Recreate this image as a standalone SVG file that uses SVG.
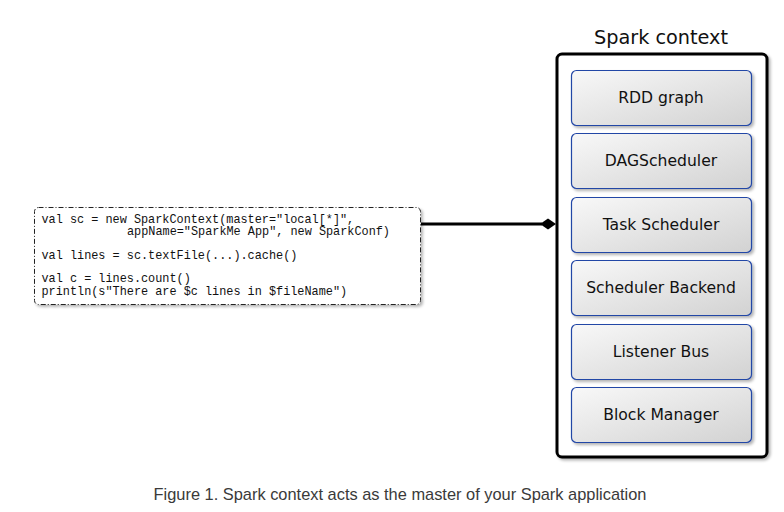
<svg xmlns="http://www.w3.org/2000/svg" width="784" height="512" viewBox="0 0 784 512">
<style>
.code{font-family:"Liberation Mono","Courier New",monospace;font-size:11.85px;fill:#111;white-space:pre}
.box{fill:url(#g);stroke:#2347a6;stroke-width:1.2}
.lbl{font-family:"DejaVu Sans","Lucida Grande",sans-serif;font-size:15.6px;fill:#111;text-anchor:middle}
</style>
<defs>
<linearGradient id="g" x1="0" y1="0" x2="1" y2="1">
<stop offset="0" stop-color="#f8f8f8"/>
<stop offset="1" stop-color="#d2d2d2"/>
</linearGradient>
<filter id="sh" x="-10%" y="-10%" width="130%" height="130%">
<feGaussianBlur in="SourceAlpha" stdDeviation="1.5"/>
<feOffset dx="2" dy="2"/>
<feComponentTransfer><feFuncA type="linear" slope="0.3"/></feComponentTransfer>
<feMerge><feMergeNode/><feMergeNode in="SourceGraphic"/></feMerge>
</filter>
</defs>
<rect width="784" height="512" fill="#fff"/>
<g id="code-box">
<rect x="34.5" y="207.5" width="386" height="97" rx="4" fill="#fff" stroke="#222" stroke-width="1" stroke-dasharray="5,2,1,2" filter="url(#sh)"/>
<text class="code" x="41.5" y="222.5">val sc = new SparkContext(master="local[*]",</text>
<text class="code" x="127" y="235">appName="SparkMe App", new SparkConf)</text>
<text class="code" x="41.5" y="258.5">val lines = sc.textFile(...).cache()</text>
<text class="code" x="41.5" y="282">val c = lines.count()</text>
<text class="code" x="41.5" y="295">println(s"There are $c lines in $fileName")</text>
</g>
<g id="connectors">
<line x1="421" y1="224" x2="542" y2="224" stroke="#000" stroke-width="3"/>
<polygon points="540,224 548,218.5 556,224 548,229.5" fill="#000"/>
</g>
<g id="spark-context">
<text x="661" y="44" font-family="DejaVu Sans,'Lucida Grande',sans-serif" font-size="19.3" text-anchor="middle" fill="#111">Spark context</text>
<rect x="557" y="54" width="210" height="403" rx="5" fill="#fff" stroke="#000" stroke-width="3" filter="url(#sh)"/>
</g>
<g id="rdd-graph"><rect class="box" x="571.5" y="70.5" width="180" height="55" rx="5" filter="url(#sh)"/><text class="lbl" x="661" y="103">RDD graph</text></g>
<g id="dag-scheduler"><rect class="box" x="571.5" y="133.5" width="180" height="55" rx="5" filter="url(#sh)"/><text class="lbl" x="661" y="166">DAGScheduler</text></g>
<g id="task-scheduler"><rect class="box" x="571.5" y="197.5" width="180" height="55" rx="5" filter="url(#sh)"/><text class="lbl" x="661" y="230">Task Scheduler</text></g>
<g id="scheduler-backend"><rect class="box" x="571.5" y="260.5" width="180" height="55" rx="5" filter="url(#sh)"/><text class="lbl" x="661" y="293">Scheduler Backend</text></g>
<g id="listener-bus"><rect class="box" x="571.5" y="324.5" width="180" height="55" rx="5" filter="url(#sh)"/><text class="lbl" x="661" y="357">Listener Bus</text></g>
<g id="block-manager"><rect class="box" x="571.5" y="387.5" width="180" height="55" rx="5" filter="url(#sh)"/><text class="lbl" x="661" y="420">Block Manager</text></g>
<text x="400" y="500" font-family="'Liberation Sans',Arial,sans-serif" font-size="16.4" text-anchor="middle" fill="#3a3a3a">Figure 1. Spark context acts as the master of your Spark application</text>
</svg>
